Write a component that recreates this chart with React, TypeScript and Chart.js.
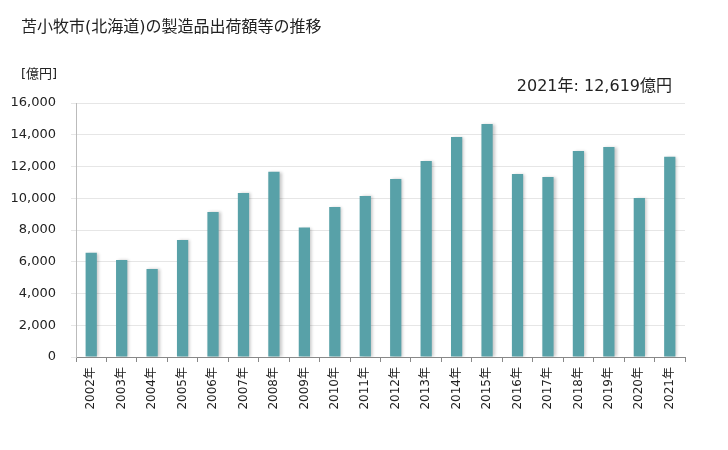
import React, { useEffect, useRef } from "react";
import { Chart, registerables } from "chart.js";

Chart.register(...registerables);

const TITLE = "苫小牧市(北海道)の製造品出荷額等の推移";
const UNIT = "[億円]";
const ANNOTATION = "2021年: 12,619億円";
const years = [
  "2002年", "2003年", "2004年", "2005年", "2006年", "2007年", "2008年", "2009年", "2010年", "2011年",
  "2012年", "2013年", "2014年", "2015年", "2016年", "2017年", "2018年", "2019年", "2020年", "2021年",
];
const values = [
  6570, 6110, 5540, 7370, 9130, 10330, 11670, 8150, 9450, 10140,
  11210, 12350, 13860, 14680, 11530, 11340, 12980, 13230, 10020, 12619,
];
const yTicks = [0, 2000, 4000, 6000, 8000, 10000, 12000, 14000, 16000];

const FONT = "'DejaVu Sans', 'Noto Sans CJK JP', sans-serif";

export default function App() {
  const ref = useRef<HTMLCanvasElement | null>(null);
  useEffect(() => {
    if (!ref.current) return;
    const textPlugin = {
      id: "texts",
      afterDraw(chart: any) {
        const ctx = chart.ctx;
        ctx.save();
        ctx.fillStyle = "#222";
        ctx.textBaseline = "middle";
        ctx.font = `16px ${FONT}`;
        ctx.textAlign = "left";
        ctx.fillText(TITLE, 21, 28);
        ctx.font = `13px ${FONT}`;
        ctx.fillText(UNIT, 21, 75);
        ctx.font = `16px ${FONT}`;
        ctx.textAlign = "right";
        ctx.fillText(ANNOTATION, 672, 87);
        ctx.restore();
      },
    };
    const shadowPlugin = {
      id: "barShadow",
      beforeDatasetDraw(chart: any) {
        const ctx = chart.ctx;
        ctx.save();
        ctx.shadowColor = "rgba(0,0,0,0.22)";
        ctx.shadowBlur = 3;
        ctx.shadowOffsetX = 2;
        ctx.shadowOffsetY = 0;
      },
      afterDatasetDraw(chart: any) {
        chart.ctx.restore();
      },
    };
    const chart = new Chart(ref.current, {
      type: "bar",
      data: {
        labels: years,
        datasets: [
          {
            data: values,
            backgroundColor: "#58a1a8",
            borderWidth: 0,
            barPercentage: 0.37,
            categoryPercentage: 1,
          },
        ],
      },
      options: {
        animation: false,
        responsive: false,
        maintainAspectRatio: false,
        layout: { padding: { top: 103, right: 43, left: 0, bottom: 0 } },
        plugins: { legend: { display: false }, tooltip: { enabled: false }, title: { display: false } },
        scales: {
          x: {
            grid: {
              display: true,
              drawOnChartArea: false,
              drawTicks: true,
              tickLength: 5,
              color: "#888",
              offset: true,
            },
            border: { color: "#888" },
            ticks: {
              color: "#222",
              font: { size: 12, family: FONT },
              maxRotation: 90,
              minRotation: 90,
              autoSkip: false,
              padding: 5,
            },
            afterFit(scale: any) {
              scale.height = 93;
            },
          },
          y: {
            min: 0,
            max: 16000,
            afterBuildTicks(scale: any) {
              scale.ticks = yTicks.map((v) => ({ value: v }));
            },
            grid: { color: "#e6e6e6", tickLength: 5, drawTicks: true },
            border: { color: "#bbb" },
            ticks: {
              color: "#222",
              font: { size: 13, family: FONT },
              padding: 15,
              callback: (v: any) => Number(v).toLocaleString("en-US"),
            },
            afterFit(scale: any) {
              scale.width = 76;
            },
          },
        },
      },
      plugins: [shadowPlugin, textPlugin],
    });
    return () => chart.destroy();
  }, []);
  return (
    <div style={{ position: "fixed", left: 0, top: 0, width: 728, height: 450, background: "#fff" }}>
      <canvas ref={ref} width={728} height={450} style={{ width: 728, height: 450 }} />
    </div>
  );
}
